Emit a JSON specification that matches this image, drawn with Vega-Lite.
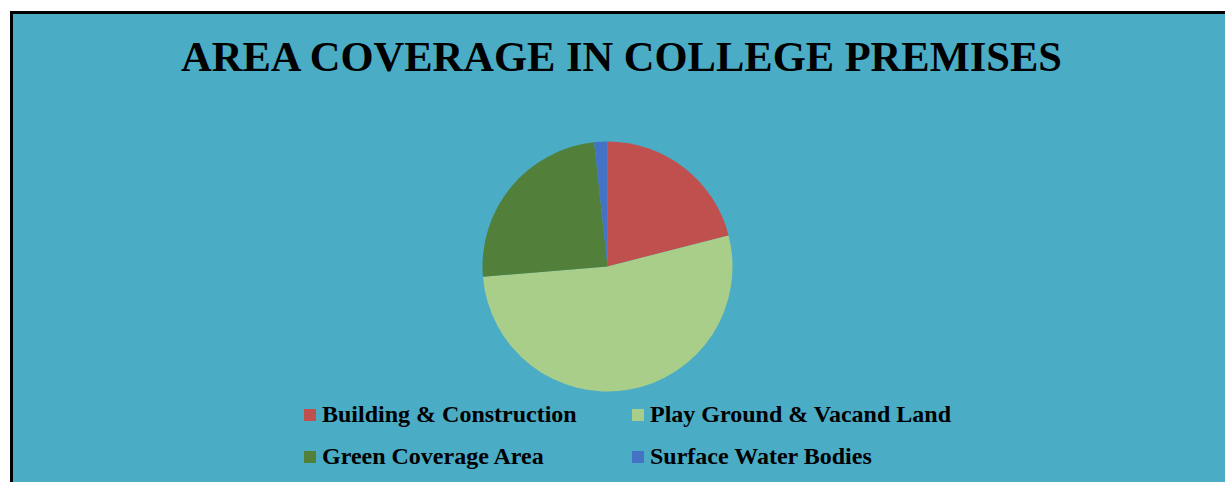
{
  "$schema": "https://vega.github.io/schema/vega-lite/v6.json",
  "width": 1225,
  "height": 482,
  "autosize": {"type": "fit", "contains": "padding"},
  "padding": {"left": 10, "top": 11, "right": 0, "bottom": 0},
  "background": "white",
  "title": {
    "text": "AREA COVERAGE IN COLLEGE PREMISES",
    "font": "Liberation Serif",
    "fontSize": 42.5,
    "fontWeight": "bold",
    "color": "black",
    "anchor": "middle",
    "frame": "group",
    "offset": -68,
    "dx": 4
  },
  "layer": [
    {
      "data": {"values": [{"panel": "chart border"}]},
      "mark": {"type": "rect", "fill": "black"},
      "encoding": {}
    },
    {
      "data": {"values": [{"panel": "chart area"}]},
      "mark": {"type": "rect", "fill": "#4BACC6"},
      "encoding": {
        "x": {"value": 3},
        "x2": {"value": {"expr": "width"}},
        "y": {"value": 3},
        "y2": {"value": {"expr": "height"}}
      }
    },
    {
      "data": {
        "values": [
          {"area": "Building & Construction", "share": 21.0, "rank": 1},
          {"area": "Play Ground & Vacand Land", "share": 52.7, "rank": 2},
          {"area": "Green Coverage Area", "share": 24.6, "rank": 3},
          {"area": "Surface Water Bodies", "share": 1.7, "rank": 4}
        ]
      },
      "mark": {"type": "arc", "outerRadius": 125, "xOffset": -10, "yOffset": 20},
      "encoding": {
        "theta": {"field": "share", "type": "quantitative", "stack": true},
        "order": {"field": "rank", "type": "quantitative"},
        "color": {
          "field": "area",
          "type": "nominal",
          "scale": {
            "domain": ["Building & Construction", "Play Ground & Vacand Land", "Green Coverage Area", "Surface Water Bodies"],
            "range": ["#C0504D", "#A9CE8A", "#52803A", "#4472C4"]
          },
          "legend": {
            "title": null,
            "orient": "none",
            "direction": "horizontal",
            "legendX": 288,
            "legendY": 392,
            "columns": 2,
            "padding": 0,
            "symbolType": "square",
            "symbolSize": 144,
            "symbolStrokeWidth": 0,
            "labelFont": "Liberation Serif",
            "labelFontSize": 24,
            "labelFontWeight": "bold",
            "labelColor": "black",
            "labelOffset": 0,
            "labelLimit": 0,
            "columnPadding": 49,
            "rowPadding": 18
          }
        }
      }
    }
  ]
}
